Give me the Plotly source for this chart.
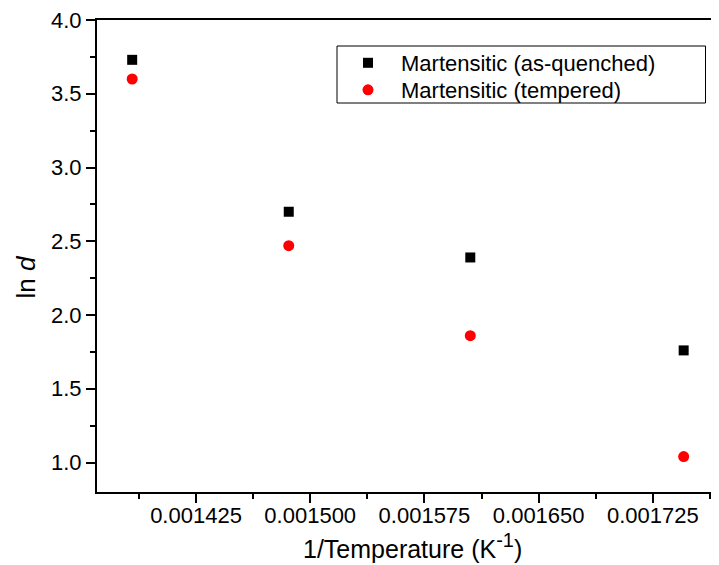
import plotly.graph_objects as go

# Data
inv_temperature = [0.0013831, 0.0014859, 0.0016051, 0.0017452]
ln_d_as_quenched = [3.73, 2.70, 2.39, 1.76]
ln_d_tempered = [3.60, 2.47, 1.86, 1.04]
series_names = ["Martensitic (as-quenched)", "Martensitic (tempered)"]
x_tick_vals = [0.001425, 0.001500, 0.001575, 0.001650, 0.001725]
x_tick_text = ["0.001425", "0.001500", "0.001575", "0.001650", "0.001725"]
y_tick_vals = [1.0, 1.5, 2.0, 2.5, 3.0, 3.5, 4.0]
x_title = "1/Temperature (K<sup><span style='font-size:20px'>-1</span></sup>)"
y_title = "ln <i>d</i>"

FONT = "Liberation Sans, Arial, sans-serif"
OFF = 8  # page body margin

fig = go.Figure()
fig.add_trace(go.Scatter(x=inv_temperature, y=ln_d_as_quenched, mode="markers",
                         name=series_names[0], legend="legend",
                         marker=dict(symbol="square", size=10, color="black")))
fig.add_trace(go.Scatter(x=inv_temperature, y=ln_d_tempered, mode="markers",
                         name=series_names[1], legend="legend2",
                         marker=dict(symbol="circle", size=11, color="#ff0000")))

W, H = 719 - OFF, 565 - OFF
L, R, T, B = 97 - OFF, 0, 20 - OFF, 73
pw, ph = W - L - R, H - T - B


def px(xp):
    return (xp - OFF - L) / pw


def py(yp):
    return (H - B - (yp - OFF)) / ph


leg_common = dict(xanchor="left", yanchor="top", bgcolor="rgba(0,0,0,0)",
                  borderwidth=0, font=dict(size=22, family=FONT, color="black"),
                  itemwidth=56)

fig.update_layout(
    width=W, height=H,
    margin=dict(l=L, r=R, t=T, b=B, pad=0),
    paper_bgcolor="white", plot_bgcolor="white",
    font=dict(family=FONT, color="black", size=22),
    showlegend=True,
    legend=dict(x=px(335), y=py(42), **leg_common),
    legend2=dict(x=px(335), y=py(69), **leg_common),
    shapes=[dict(type="rect", xref="paper", yref="paper",
                 x0=px(337), x1=px(705.5), y0=py(46), y1=py(103),
                 line=dict(color="black", width=1), fillcolor="rgba(0,0,0,0)")],
    annotations=[
        dict(text=y_title, xref="paper", yref="paper",
             x=px(25.5), y=py(277), xanchor="center", yanchor="middle",
             textangle=-90, showarrow=False,
             font=dict(size=26, family=FONT, color="black")),
        dict(text=x_title, xref="paper", yref="paper",
             x=px(412), y=py(546), xanchor="center", yanchor="middle",
             showarrow=False,
             font=dict(size=25, family=FONT, color="black")),
    ],
)

fig.update_xaxes(
    range=[0.00136, 0.0017684],
    tickvals=x_tick_vals, ticktext=x_tick_text,
    ticks="outside", ticklen=9, tickwidth=2, tickcolor="black",
    minor=dict(dtick=0.0000375, tick0=0.001425, ticks="outside", ticklen=5,
               tickwidth=2, tickcolor="black", showgrid=False),
    showline=True, linewidth=2, linecolor="black", mirror=True,
    showgrid=False, zeroline=False,
    tickfont=dict(size=22), ticklabelstandoff=-6,
)
fig.update_yaxes(
    range=[0.8, 4.0],
    tickvals=y_tick_vals, tickformat=".1f",
    ticks="outside", ticklen=9, tickwidth=2, tickcolor="black",
    minor=dict(dtick=0.25, tick0=0.75, ticks="outside", ticklen=5,
               tickwidth=2, tickcolor="black", showgrid=False),
    showline=True, linewidth=2, linecolor="black", mirror=False,
    showgrid=False, zeroline=False,
    tickfont=dict(size=22), ticklabeloverflow="allow",
)

fig.write_html("out.html")
